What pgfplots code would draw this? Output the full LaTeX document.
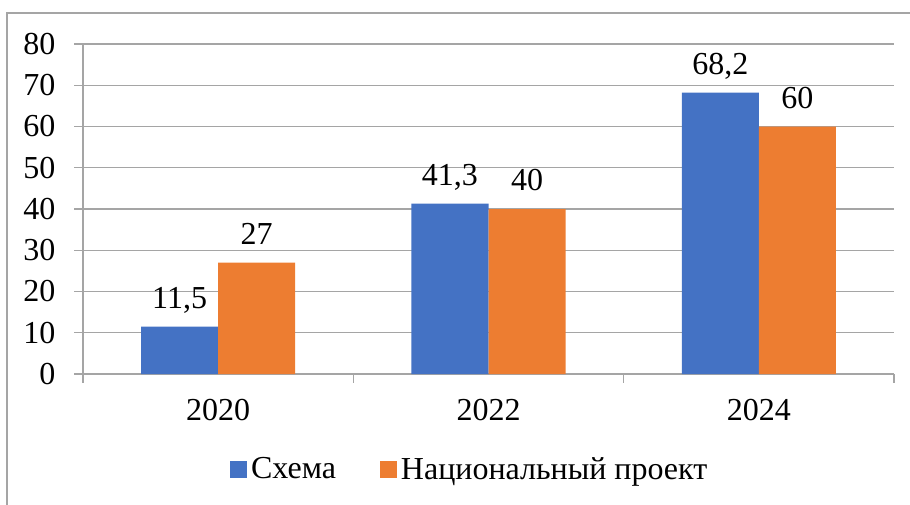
\documentclass[border=0pt]{standalone}
\usepackage{fontspec}
\setmainfont{Liberation Serif}
\usepackage{pgfplots}
\pgfplotsset{compat=1.18}
\definecolor{cblue}{HTML}{4472C4}
\definecolor{corange}{HTML}{ED7D31}
\definecolor{lgray}{RGB}{165,165,165}
\begin{document}
\begin{tikzpicture}
\path[use as bounding box] (0,0) rectangle (455pt,252pt);
\clip (0,0) rectangle (455pt,252pt);
\draw[lgray, line width=0.7pt] (3.5pt,245.5pt) rectangle (470pt,-10pt);
\begin{axis}[
  at={(41.5pt,65pt)}, anchor=south west,
  scale only axis, width=405.5pt, height=165pt,
  ybar=0pt, bar width=0.285,
  xmin=-0.5, xmax=2.5, ymin=0, ymax=80,
  ytick distance=10,
  xtick={-0.5,0.5,1.5,2.5}, xticklabels={},
  extra x ticks={0,1,2}, extra x tick labels={2020,2022,2024},
  extra x tick style={major tick length=0pt, xticklabel style={yshift=-9pt}},
  axis x line*=bottom, axis y line*=left,
  tick align=outside,
  major tick length=4.3pt,
  tick style={lgray, line width=0.7pt},
  axis line style={lgray, line width=0.7pt},
  ymajorgrids, grid style={lgray, line width=0.7pt},
  font=\fontsize{16}{19}\selectfont,
  /pgf/number format/assume math mode=true,
  /pgf/number format/use comma,
  yticklabel style={xshift=-6pt},
  nodes near coords,
  every node near coord/.append style={font=\fontsize{16}{19}\selectfont, inner sep=0pt, text depth=0pt, yshift=9pt},
  legend columns=2,
  legend style={at={(0.478,-0.29)}, anchor=center, draw=none, fill=none,
    font=\fontsize{16}{19}\selectfont,
    /tikz/every even column/.append style={column sep=20pt}},
  legend image code/.code={\fill[#1] (0pt,-4.25pt) rectangle (8.5pt,4.25pt);},
]
\addplot[fill=cblue, draw=none] coordinates {(0,11.5) (1,41.3) (2,68.2)};
\addplot[fill=corange, draw=none] coordinates {(0,27) (1,40) (2,60)};
\legend{Схема, Национальный проект}
\end{axis}
\end{tikzpicture}
\end{document}
